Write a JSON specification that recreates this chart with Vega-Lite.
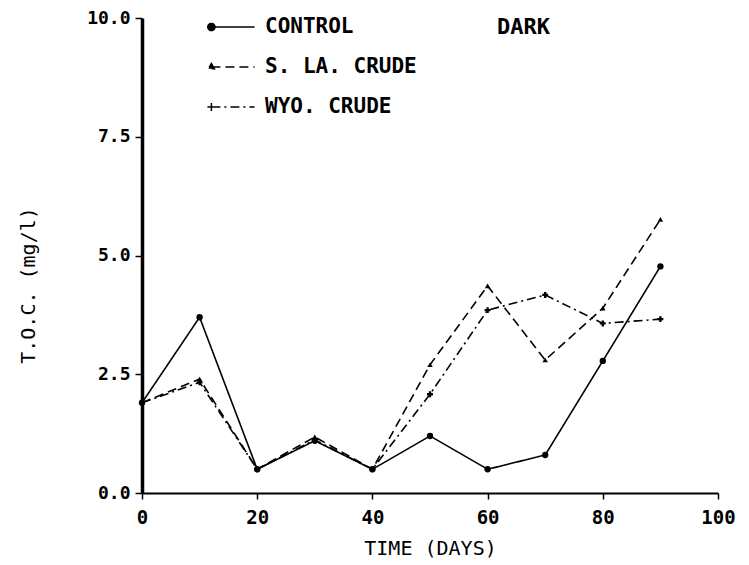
{
  "$schema": "https://vega.github.io/schema/vega-lite/v6.json",
  "autosize": "none",
  "padding": {"left": 142, "top": 18, "right": 31, "bottom": 72},
  "width": 576,
  "height": 475,
  "background": "white",
  "title": {"text": "DARK", "anchor": "start", "frame": "group", "dx": 355, "dy": 41, "offset": 0, "baseline": "middle", "font": "DejaVu Sans Mono", "fontWeight": "bold", "fontSize": 22, "color": "black"},
  "config": {"view": {"stroke": null}},
  "data": {"values": [
    {"day": 0, "toc": 1.9, "series": "CONTROL"},
    {"day": 10, "toc": 3.7, "series": "CONTROL"},
    {"day": 20, "toc": 0.5, "series": "CONTROL"},
    {"day": 30, "toc": 1.1, "series": "CONTROL"},
    {"day": 40, "toc": 0.5, "series": "CONTROL"},
    {"day": 50, "toc": 1.2, "series": "CONTROL"},
    {"day": 60, "toc": 0.5, "series": "CONTROL"},
    {"day": 70, "toc": 0.8, "series": "CONTROL"},
    {"day": 80, "toc": 2.78, "series": "CONTROL"},
    {"day": 90, "toc": 4.77, "series": "CONTROL"},
    {"day": 0, "toc": 1.9, "series": "S. LA. CRUDE"},
    {"day": 10, "toc": 2.4, "series": "S. LA. CRUDE"},
    {"day": 20, "toc": 0.5, "series": "S. LA. CRUDE"},
    {"day": 30, "toc": 1.18, "series": "S. LA. CRUDE"},
    {"day": 40, "toc": 0.5, "series": "S. LA. CRUDE"},
    {"day": 50, "toc": 2.7, "series": "S. LA. CRUDE"},
    {"day": 60, "toc": 4.36, "series": "S. LA. CRUDE"},
    {"day": 70, "toc": 2.8, "series": "S. LA. CRUDE"},
    {"day": 80, "toc": 3.89, "series": "S. LA. CRUDE"},
    {"day": 90, "toc": 5.76, "series": "S. LA. CRUDE"},
    {"day": 0, "toc": 1.9, "series": "WYO. CRUDE"},
    {"day": 10, "toc": 2.33, "series": "WYO. CRUDE"},
    {"day": 20, "toc": 0.5, "series": "WYO. CRUDE"},
    {"day": 30, "toc": 1.12, "series": "WYO. CRUDE"},
    {"day": 40, "toc": 0.5, "series": "WYO. CRUDE"},
    {"day": 50, "toc": 2.08, "series": "WYO. CRUDE"},
    {"day": 60, "toc": 3.85, "series": "WYO. CRUDE"},
    {"day": 70, "toc": 4.17, "series": "WYO. CRUDE"},
    {"day": 80, "toc": 3.57, "series": "WYO. CRUDE"},
    {"day": 90, "toc": 3.66, "series": "WYO. CRUDE"}
  ]},
  "encoding": {
    "x": {"field": "day", "type": "quantitative", "scale": {"domain": [0, 100], "nice": false, "zero": false},
      "axis": {"values": [0, 20, 40, 60, 80, 100], "title": "TIME (DAYS)", "grid": false,
        "domainColor": "black", "domainWidth": 2, "tickColor": "black", "tickWidth": 1.5, "tickSize": 6,
        "labelFont": "DejaVu Sans Mono", "labelFontSize": 19, "labelFontWeight": "bold", "labelColor": "black", "labelPadding": 9, "labelFlush": false,
        "titleFont": "DejaVu Sans Mono", "titleFontSize": 20, "titleFontWeight": "normal", "titleColor": "black", "titleY": 55, "titleBaseline": "middle"}},
    "y": {"field": "toc", "type": "quantitative", "scale": {"domain": [0, 10], "nice": false},
      "axis": {"values": [0, 2.5, 5, 7.5, 10], "format": ".1f", "title": "T.O.C.  (mg/l)", "grid": false,
        "domainColor": "black", "domainWidth": 3.5, "tickColor": "black", "tickWidth": 1.5, "tickSize": 7,
        "labelFont": "DejaVu Sans Mono", "labelFontSize": 18, "labelFontWeight": "bold", "labelColor": "black", "labelPadding": 5, "labelFlush": false,
        "titleFont": "DejaVu Sans Mono", "titleFontSize": 20, "titleFontWeight": "normal", "titleColor": "black",
        "titleX": -114, "titleY": 267, "titleAngle": 270, "titleAlign": "center", "titleBaseline": "middle"}}
  },
  "layer": [
    {
      "mark": {"type": "line", "color": "black", "strokeWidth": 1.6},
      "encoding": {
        "strokeDash": {"field": "series", "type": "nominal",
          "scale": {"domain": ["CONTROL", "S. LA. CRUDE", "WYO. CRUDE"], "range": [[1, 0], [9, 5], [9, 4, 2, 4]]},
          "legend": {"orient": "none", "legendX": 72, "legendY": -10, "title": null,
            "symbolSize": 1296, "symbolStrokeWidth": 1.5, "symbolStrokeColor": "black", "symbolFillColor": "black",
            "labelFont": "DejaVu Sans Mono", "labelFontWeight": "bold", "labelFontSize": 21, "labelColor": "black",
            "labelOffset": 13, "rowPadding": 11,
            "encode": {"symbols": {"update": {
              "fill": {"value": "black"},
              "stroke": {"value": "black"},
              "strokeWidth": {"value": 1.5},
              "shape": {"signal": "datum.value === 'CONTROL' ? 'M-1.2,0L1.2,0M-1.4,0A0.2,0.2 0 1,0 -1.0,0A0.2,0.2 0 1,0 -1.4,0Z' : datum.value === 'S. LA. CRUDE' ? 'M-1.2,0L1.2,0M-1.2,-0.2L-1.03,0.1L-1.37,0.1Z' : 'M-1.2,0L1.2,0M-1.2,-0.22L-1.2,0.22M-1.42,0L-0.98,0'"}
            }}}}
        }
      }
    },
    {
      "transform": [{"filter": "datum.series === 'CONTROL'"}],
      "mark": {"type": "point", "shape": "circle", "filled": true, "color": "black", "size": 40, "opacity": 1}
    },
    {
      "transform": [{"filter": "datum.series === 'S. LA. CRUDE'"}],
      "mark": {"type": "point", "shape": "triangle-up", "filled": true, "color": "black", "size": 30, "opacity": 1}
    },
    {
      "transform": [{"filter": "datum.series === 'WYO. CRUDE'"}],
      "mark": {"type": "point", "shape": "cross", "filled": true, "color": "black", "size": 35, "opacity": 1}
    }
  ]
}
